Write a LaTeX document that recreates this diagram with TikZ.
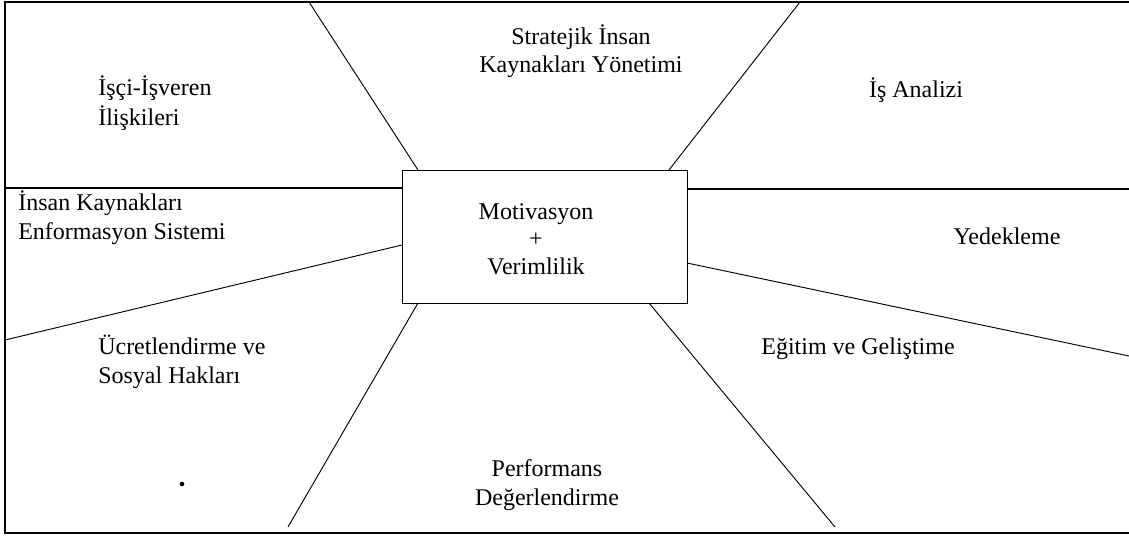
\documentclass[tikz,border=0pt]{standalone}
\usepackage{fontspec}
\setmainfont{Liberation Serif}
\usepackage{xcolor}
\usepackage{tikz}

\tikzset{
  lbl/.style={inner sep=0.75pt, font=\fontsize{18}{22}\selectfont},
  lblc/.style={inner sep=0.75pt, font=\fontsize{18}{20.6}\selectfont},
  frm/.style={line width=1.1pt},
  ray/.style={line width=0.7pt}
}

\begin{document}
\begin{tikzpicture}[x=0.75pt,y=0.75pt,yscale=-1,xscale=1]

\useasboundingbox (0,0) rectangle (1129,538);

% outer frame (open on the right)
\draw [frm]  (1129,2) -- (5,2) -- (5,533) -- (1129,533) ;

% centre box
\node [draw, ray, minimum width=213.75pt, minimum height=99.75pt, inner sep=0pt] (core) at (544.5,236.5) {};

\node [lblc, align=center] (motiv) at (536,239) {Motivasyon\\+\\Verimlilik};

% points where the rays leave the box and meet the frame
\coordinate (tl0) at (418,170);
\coordinate (tl1) at (309,2);
\coordinate (tr0) at (669,170);
\coordinate (tr1) at (800,2);
\coordinate (lh0) at (402,188);
\coordinate (lh1) at (5,188);
\coordinate (rh0) at (687,189);
\coordinate (rh1) at (1129,189);
\coordinate (ll0) at (402,245);
\coordinate (ll1) at (5,340);
\coordinate (rl0) at (687,263);
\coordinate (rl1) at (1129,356);
\coordinate (bl0) at (418,303);
\coordinate (bl1) at (288,527);
\coordinate (br0) at (649,303);
\coordinate (br1) at (835,527);

\draw [ray]  (tl0) -- (tl1) ;

\draw [ray]  (tr0) -- (tr1) ;

\draw [frm]  (lh0) -- (lh1) ;

\draw [frm]  (rh0) -- (rh1) ;

\draw [ray]  (ll0) -- (ll1) ;

\draw [ray]  (rl0) -- (rl1) ;

\draw [ray]  (bl0) -- (bl1) ;

\draw [ray]  (br0) -- (br1) ;


% labels of the sectors
\node [lblc, align=center] (strat) at (581,51) {Stratejik İnsan\\Kaynakları Yönetimi};

\node [lbl, align=left, anchor=west] (isci) at (97,103) {İşçi-İşveren\\İlişkileri};

\node [lbl] (isan) at (916,90) {İş Analizi};

\node [lbl, align=left, anchor=west] (ikes) at (17,218) {İnsan Kaynakları\\Enformasyon Sistemi};

\node [lbl] (yedek) at (1007,236) {Yedekleme};

\node [lbl, align=left, anchor=west] (ucret) at (97,362) {Ücretlendirme ve\\Sosyal Hakları};

\node [lbl] (egitim) at (858,349) {Eğitim ve Geliştime};

\node [lbl, align=center] (perf) at (547,485) {Performans\\Değerlendirme};

\node [circle, fill, inner sep=0pt, minimum size=3.5pt] (dot) at (182,484) {};

\end{tikzpicture}
\end{document}
